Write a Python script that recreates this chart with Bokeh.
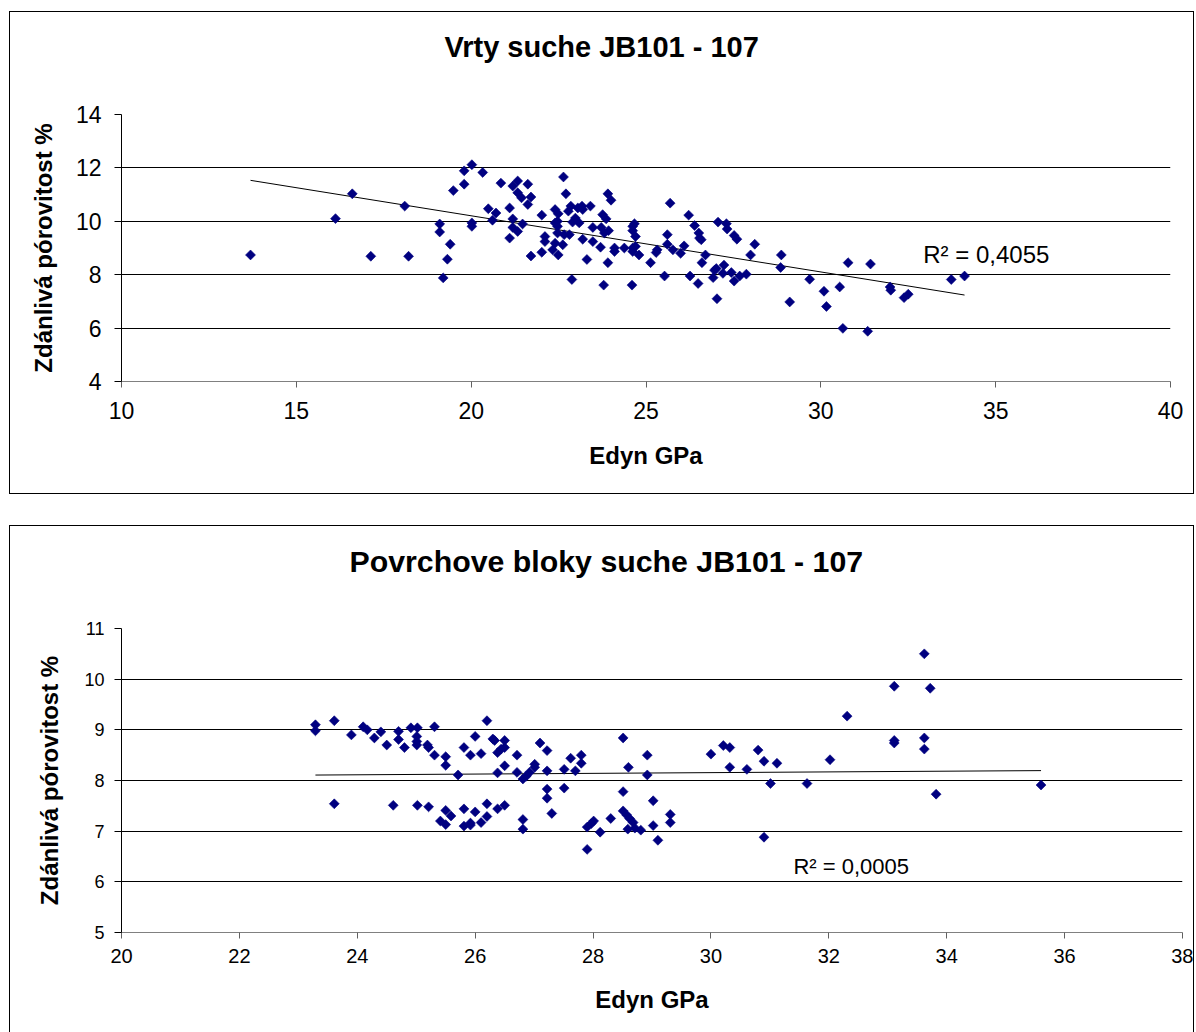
import numpy as np
from bokeh.plotting import figure
from bokeh.models import Range1d, FixedTicker, Label, Title
from bokeh.layouts import column
from bokeh.embed import file_html
from bokeh.resources import INLINE

FONT = "Liberation Sans"
NAVY = "#000080"

# --- Vrty suche JB101 - 107 (Edyn GPa vs. apparent porosity %) ---
vrty_edyn = [
    13.69, 16.12, 16.60, 17.13, 18.10, 18.21, 19.10, 19.10, 19.20, 19.32,
    19.40, 19.49, 19.80, 19.80, 20.02, 20.02, 20.02, 20.33, 20.49, 20.71,
    20.61, 20.85, 21.10, 21.10, 21.19, 21.19, 21.33, 21.19, 21.33, 21.33,
    21.44, 21.62, 21.62, 21.71, 21.47, 21.71, 22.02, 22.02, 22.11, 22.11,
    22.33, 22.40, 22.49, 22.40, 22.47, 22.47, 22.40, 22.49, 22.47, 22.64,
    22.71, 22.62, 22.66, 22.81, 22.78, 22.85, 22.90, 22.98, 23.09, 22.88,
    23.05, 23.17, 23.19, 23.41, 23.19, 23.31, 23.48, 23.48, 23.70, 23.72,
    23.76, 23.81, 23.86, 23.79, 23.91, 24.00, 23.93, 23.91, 24.10, 24.10,
    24.38, 24.62, 24.67, 24.62, 24.70, 24.62, 24.70, 24.62, 24.80, 24.60,
    25.13, 25.29, 25.32, 25.53, 25.61, 25.61, 25.69, 25.77, 25.99, 26.09,
    26.22, 26.26, 26.39, 26.49, 26.51, 26.53, 26.58, 26.70, 26.60, 26.92,
    26.96, 27.01, 27.03, 27.06, 27.23, 27.20, 27.30, 27.32, 27.44, 27.52,
    27.52, 27.60, 27.68, 27.87, 27.99, 28.11, 28.87, 28.85, 29.11, 29.68,
    30.09, 30.16, 30.54, 30.63, 30.78, 31.42, 31.34, 31.98, 32.00, 32.38,
    32.50, 33.73, 34.11,
]
vrty_por = [
    8.74, 10.10, 11.03, 8.69, 10.57, 8.69, 9.90, 9.60, 7.88, 8.58,
    9.14, 11.15, 11.39, 11.89, 12.12, 9.94, 9.81, 11.83, 10.47, 10.31,
    10.04, 11.43, 10.50, 9.37, 10.09, 9.77, 9.62, 11.32, 11.51, 11.07,
    10.88, 11.39, 10.63, 10.91, 9.90, 8.70, 10.23, 8.84, 9.43, 9.24,
    8.93, 10.44, 10.28, 9.94, 10.00, 9.81, 9.18, 8.74, 9.56, 11.66,
    11.03, 9.12, 9.50, 9.50, 10.38, 10.57, 9.97, 10.12, 9.94, 7.82,
    10.50, 10.57, 10.44, 10.57, 9.33, 8.57, 9.77, 9.24, 9.03, 9.77,
    10.25, 9.56, 10.09, 7.61, 11.03, 10.79, 9.65, 8.45, 9.00, 8.87,
    9.00, 9.81, 9.91, 9.65, 9.43, 9.00, 9.06, 8.87, 8.74, 7.61,
    8.45, 8.83, 8.93, 7.95, 9.50, 9.14, 10.68, 8.93, 8.80, 9.08,
    10.23, 7.95, 9.84, 7.67, 9.56, 9.37, 9.31, 8.74, 8.45, 7.89,
    8.17, 8.23, 7.10, 9.97, 8.36, 8.05, 9.91, 9.71, 8.08, 7.76,
    9.47, 9.33, 7.95, 8.02, 8.74, 9.14, 8.74, 8.27, 6.98, 7.83,
    7.38, 6.81, 7.54, 5.99, 8.45, 8.40, 5.88, 7.54, 7.42, 7.14,
    7.27, 7.82, 7.95,
]

# --- Povrchove bloky suche JB101 - 107 ---
bloky_edyn = [
    23.29, 23.29, 23.61, 23.61, 23.90, 24.10, 24.17, 24.29, 24.40, 24.50,
    24.61, 24.70, 24.70, 24.80, 24.91, 25.02, 25.01, 25.01, 25.01, 25.02,
    25.19, 25.21, 25.21, 25.31, 25.31, 25.50, 25.50, 25.50, 25.59, 25.41,
    25.50, 25.71, 25.81, 25.81, 25.81, 25.92, 25.92, 25.92, 26.00, 26.00,
    26.10, 26.10, 26.20, 26.20, 26.20, 26.30, 26.33, 26.38, 26.44, 26.38,
    26.50, 26.38, 26.50, 26.50, 26.50, 26.71, 26.71, 26.81, 26.87, 26.92,
    26.81, 26.81, 27.01, 27.01, 27.10, 27.22, 27.22, 27.22, 27.22, 27.30,
    27.51, 27.51, 27.62, 27.70, 27.80, 27.80, 27.90, 27.90, 27.97, 28.01,
    28.12, 28.30, 28.51, 28.51, 28.51, 28.57, 28.62, 28.68, 28.59, 28.71,
    28.60, 28.81, 28.92, 28.92, 29.02, 29.02, 29.10, 29.31, 29.31, 30.00,
    30.21, 30.32, 30.32, 30.61, 30.80, 30.90, 30.90, 31.01, 31.12, 31.63,
    32.02, 32.31, 33.11, 33.11, 33.11, 33.62, 33.72, 33.62, 33.62, 33.82,
    35.60,
]
bloky_por = [
    9.10, 8.98, 9.18, 7.54, 8.90, 9.06, 9.00, 8.84, 8.96, 8.70,
    7.51, 8.97, 8.81, 8.65, 9.04, 9.04, 8.87, 8.77, 8.70, 7.51,
    8.70, 8.65, 7.48, 9.06, 8.50, 8.47, 8.30, 7.41, 7.30, 7.20,
    7.13, 8.11, 8.65, 7.44, 7.10, 8.50, 7.16, 7.12, 8.87, 7.38,
    8.53, 7.17, 9.18, 7.54, 7.29, 8.82, 8.79, 8.55, 8.62, 8.15,
    8.29, 7.44, 7.51, 8.79, 8.65, 8.50, 8.16, 8.03, 8.09, 8.16,
    7.23, 7.04, 8.32, 8.26, 8.74, 8.59, 8.19, 7.83, 7.65, 7.35,
    8.22, 7.85, 8.44, 8.19, 8.50, 8.34, 6.64, 7.08, 7.15, 7.20,
    6.98, 7.25, 8.84, 7.78, 7.40, 7.32, 7.25, 7.17, 7.04, 7.06,
    8.26, 7.02, 8.50, 8.11, 7.60, 7.11, 6.82, 7.33, 7.17, 8.52,
    8.69, 8.65, 8.26, 8.22, 8.60, 8.38, 6.88, 7.94, 8.34, 7.94,
    8.41, 9.27, 9.86, 8.79, 8.74, 10.50, 9.82, 8.84, 8.62, 7.73,
    7.91,
]

top_x_ticks = [10, 15, 20, 25, 30, 35, 40]
top_y_ticks = [4, 6, 8, 10, 12, 14]
bot_x_ticks = [20, 22, 24, 26, 28, 30, 32, 34, 36, 38]
bot_y_ticks = [5, 6, 7, 8, 9, 10, 11]

X_LABEL = "Edyn GPa"
Y_LABEL = "Zdánlivá pórovitost %"


def chart(title, xs, ys, xticks, yticks, r2_text, r2_at, g):
    p = figure(
        frame_width=g["fw"], frame_height=g["fh"],
        x_range=Range1d(xticks[0], xticks[-1]),
        y_range=Range1d(yticks[0], yticks[-1]),
        output_backend="svg", toolbar_location=None,
        min_border_left=g["bl"], min_border_right=g["br"],
        min_border_top=g["bt"], min_border_bottom=g["bb"],
        background_fill_color="white", border_fill_color="white",
        outline_line_color=None,
        styles=g["box"],
    )
    p.xgrid.visible = False
    p.ygrid.grid_line_color = "black"
    p.ygrid.grid_line_width = 1

    xa, ya = p.xaxis[0], p.yaxis[0]
    xa.ticker = FixedTicker(ticks=xticks)
    ya.ticker = FixedTicker(ticks=yticks)
    for ax in (xa, ya):
        ax.minor_tick_line_color = None
        ax.major_tick_in = 0
        ax.axis_label_text_font = FONT
        ax.axis_label_text_font_style = "bold"
        ax.axis_label_text_font_size = "24px"
        ax.axis_label_text_color = "black"
        ax.major_label_text_font = FONT
        ax.major_label_text_color = "black"
    xa.axis_label = X_LABEL
    ya.axis_label = Y_LABEL
    xa.axis_line_color = "#808080"
    xa.major_tick_line_color = "#606060"
    ya.axis_line_color = "black"
    ya.major_tick_line_color = "black"
    xa.major_tick_out = 6
    ya.major_tick_out = 7
    xa.major_label_text_font_size = g["xtf"]
    ya.major_label_text_font_size = g["ytf"]
    xa.major_label_standoff = g["xls"]
    ya.major_label_standoff = g["yls"]
    xa.axis_label_standoff = g["xas"]
    ya.axis_label_standoff = g["yas"]

    # least-squares trend line over the measured Edyn span
    k, q = np.polyfit(xs, ys, 1)
    x0, x1 = min(xs), max(xs)
    p.line([x0, x1], [k * x0 + q, k * x1 + q], line_color="black", line_width=1)

    p.scatter(xs, ys, marker="square", angle=np.pi / 4, size=7,
              fill_color=NAVY, line_color=NAVY, line_width=0.6)

    p.add_layout(Label(x=r2_at[0], y=r2_at[1], text=r2_text,
                       text_font=FONT, text_font_size=g["r2f"],
                       text_color="black", text_baseline="alphabetic"))

    # blank band next to the plotting area, heading stacked above it
    p.add_layout(Title(text=" ", standoff=g["gap"], text_font=FONT,
                       text_font_size="1px", text_color="white"), "above")
    p.add_layout(Title(text=title, align="left", offset=g["toff"],
                       standoff=10, text_font=FONT, text_font_style="bold",
                       text_font_size=g["tf"], text_color="black"), "above")
    return p


top = chart(
    "Vrty suche JB101 - 107", vrty_edyn, vrty_por, top_x_ticks, top_y_ticks,
    "R² = 0,4055", (32.93, 8.76),
    dict(fw=1047, fh=265, bl=111, br=25, bt=102, bb=114,
         xtf="23px", ytf="23px", xls=14, yls=13, xas=20, yas=16,
         r2f="24px", tf="29px", toff=323, gap=44,
         box={"border": "1px solid black"}),
)
bottom = chart(
    "Povrchove bloky suche JB101 - 107", bloky_edyn, bloky_por,
    bot_x_ticks, bot_y_ticks,
    "R² = 0,0005", (31.40, 6.31),
    dict(fw=1059, fh=303, bl=103, br=21, bt=102, bb=101,
         xtf="20px", ytf="18px", xls=10, yls=10, xas=20, yas=18,
         r2f="22px", tf="30.3px", toff=228, gap=43,
         box={"border": "1px solid black", "border-bottom": "none"}),
)

layout = column(top, bottom, spacing=31, margin=(11, 0, 0, 9))
open("out.html", "w").write(file_html(layout, INLINE))
